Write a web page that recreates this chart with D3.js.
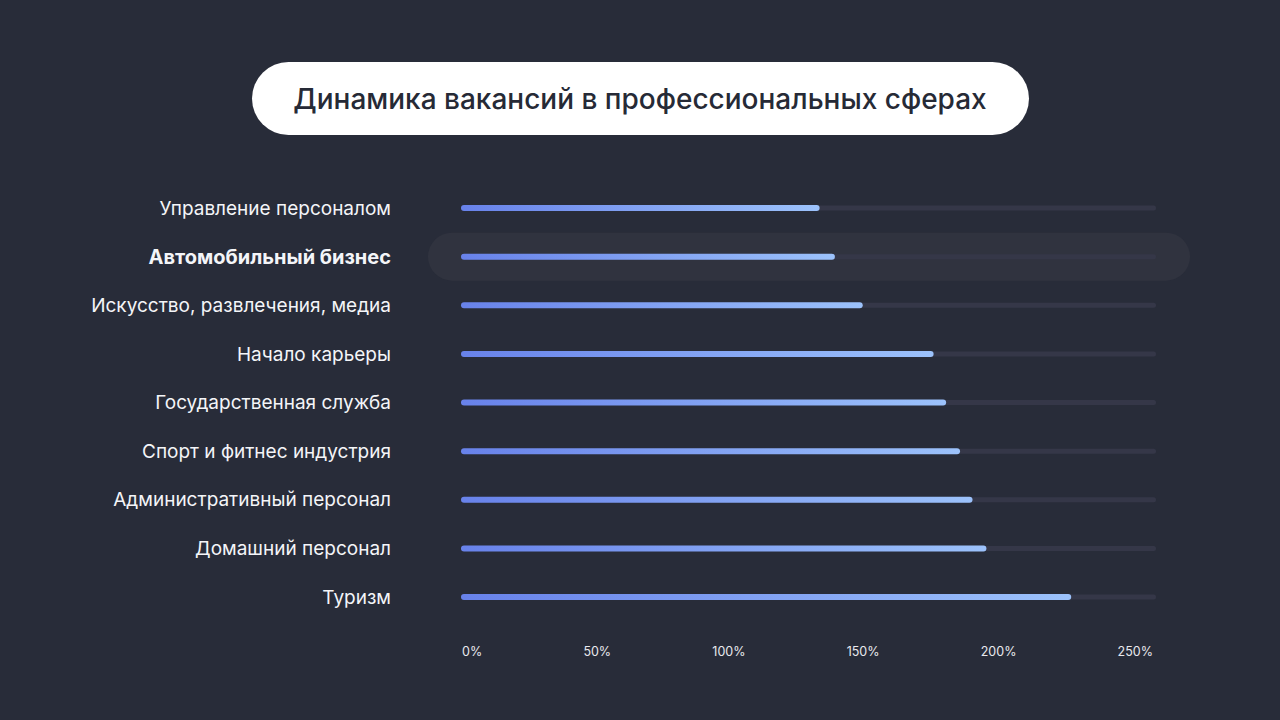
<!DOCTYPE html>
<html>
<head>
<meta charset="utf-8">
<script src="https://cdn.jsdelivr.net/npm/d3@7"></script>
<style>
  body { margin: 0; background: #282c39; }
  svg { display: block; font-family: Inter, 'Noto Sans', sans-serif; }
</style>
</head>
<body>
<div id="chart"></div>
<script>
// chart data
const title = 'Динамика вакансий в профессиональных сферах';
const categories = [
  'Управление персоналом',
  'Автомобильный бизнес',
  'Искусство, развлечения, медиа',
  'Начало карьеры',
  'Государственная служба',
  'Спорт и фитнес индустрия',
  'Административный персонал',
  'Домашний персонал',
  'Туризм'
];
const values = [129, 134.5, 144.5, 170, 174.5, 179.5, 184, 189, 219.5];
const highlighted = 'Автомобильный бизнес';
const tickValues = [0, 50, 100, 150, 200, 250];
const tickLabels = ['0%', '50%', '100%', '150%', '200%', '250%'];

const svgWidth = 1280;
const svgHeight = 720;

const svg = d3.select('#chart')
  .append('svg')
  .attr('width', svgWidth)
  .attr('height', svgHeight);

svg.append('rect')
  .attr('width', svgWidth)
  .attr('height', svgHeight)
  .attr('fill', '#282c39');

// gradient for bars
const defs = svg.append('defs');
const grad = defs.append('linearGradient')
  .attr('id', 'barGrad')
  .attr('x1', '0%').attr('x2', '100%')
  .attr('y1', '0%').attr('y2', '0%');
grad.append('stop').attr('offset', '0%').attr('stop-color', '#6882ea');
grad.append('stop').attr('offset', '100%').attr('stop-color', '#9cc2fb');

// title pill
svg.append('rect')
  .attr('x', 252)
  .attr('y', 62)
  .attr('width', 777)
  .attr('height', 73)
  .attr('rx', 36.5)
  .attr('fill', '#ffffff');

svg.append('text')
  .attr('x', 640)
  .attr('y', 99)
  .attr('dy', '0.35em')
  .attr('text-anchor', 'middle')
  .attr('font-size', '28px')
  .attr('font-weight', 500)
  .attr('fill', '#262a36')
  .text(title);

// scales
const x = d3.scaleLinear()
  .domain([0, 250])
  .range([461, 1156]);

const y = d3.scalePoint()
  .domain(categories)
  .range([208, 597]);

const barH = 6;

// highlight row background
svg.append('rect')
  .attr('x', 428)
  .attr('y', y(highlighted) - 24)
  .attr('width', 762)
  .attr('height', 48)
  .attr('rx', 24)
  .attr('fill', '#30333f');

// tracks
svg.selectAll('.track')
  .data(categories)
  .enter()
  .append('rect')
  .classed('track', true)
  .attr('x', x(0))
  .attr('y', d => y(d) - 2.5)
  .attr('width', x(250) - x(0))
  .attr('height', 5)
  .attr('rx', 2.5)
  .attr('fill', '#353748');

// bars
svg.selectAll('.bar')
  .data(categories)
  .enter()
  .append('rect')
  .classed('bar', true)
  .attr('x', x(0))
  .attr('y', d => y(d) - barH / 2)
  .attr('width', (d, i) => x(values[i]) - x(0))
  .attr('height', barH)
  .attr('rx', barH / 2)
  .attr('fill', 'url(#barGrad)');

// category labels
svg.selectAll('.catLabel')
  .data(categories)
  .enter()
  .append('text')
  .classed('catLabel', true)
  .attr('x', 391)
  .attr('y', d => y(d))
  .attr('dy', '0.35em')
  .attr('text-anchor', 'end')
  .attr('font-size', d => d === highlighted ? '20px' : '19px')
  .attr('font-weight', d => d === highlighted ? 700 : 400)
  .attr('fill', '#f4f5f8')
  .text(d => d);

// tick labels, spread between the ends of the track
const ticks = svg.selectAll('.tick')
  .data(tickValues)
  .enter()
  .append('text')
  .classed('tick', true)
  .attr('y', 652)
  .attr('dy', '0.35em')
  .attr('font-size', '12.5px')
  .attr('fill', '#e8e9ee')
  .text((d, i) => tickLabels[i]);

const widths = ticks.nodes().map(n => n.getComputedTextLength());
const left = x(0) + 1;
const right = x(250) - 3;
const gap = (right - left - d3.sum(widths)) / (widths.length - 1);
let cursor = left;
ticks.attr('x', (d, i) => {
  const pos = cursor;
  cursor += widths[i] + gap;
  return pos;
});
</script>
</body>
</html>
